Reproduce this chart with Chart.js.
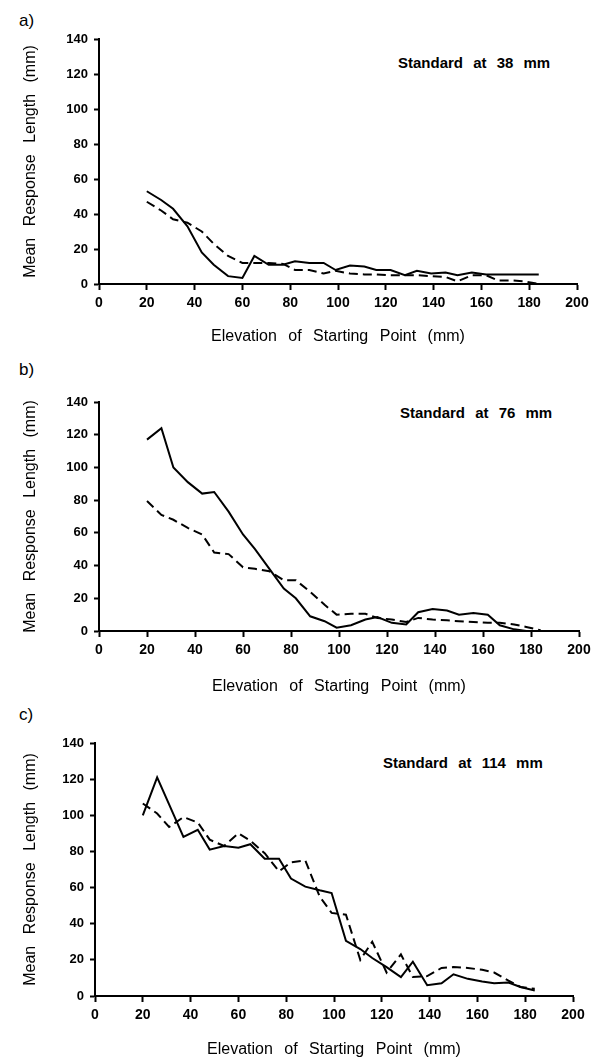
<!DOCTYPE html>
<html>
<head>
<meta charset="utf-8">
<script src="https://cdn.jsdelivr.net/npm/chart.js@4.4.1/dist/chart.umd.min.js"></script>
<style>
  html, body { margin: 0; padding: 0; background: #fff; }
  body { width: 604px; height: 1061px; position: relative; overflow: hidden;
         font-family: "Liberation Sans", Arial, sans-serif; color: #000; }
  .panel { position: absolute; left: 0; width: 604px; }
  .tag { position: absolute; left: 19px; font-size: 17px; line-height: 18px; }
  .note { position: absolute; font-weight: bold; font-size: 15px; line-height: 16px;
          word-spacing: 6px; white-space: nowrap; }
</style>
</head>
<body>
<div class="tag" style="top:12px">a)</div>
<div class="note" style="left:398px;top:55px">Standard at 38 mm</div>
<div class="panel" style="top:0;height:350px"><canvas id="chartA"></canvas></div>

<div class="tag" style="top:361px">b)</div>
<div class="note" style="left:400px;top:405px">Standard at 76 mm</div>
<div class="panel" style="top:350px;height:350px"><canvas id="chartB"></canvas></div>

<div class="tag" style="top:706px">c)</div>
<div class="note" style="left:383px;top:755px">Standard at 114 mm</div>
<div class="panel" style="top:700px;height:361px"><canvas id="chartC"></canvas></div>

<script>
// elevation of starting point (mm), same for every panel
const elevation = [20, 26, 31, 37, 43, 48, 54, 60, 65, 71, 77, 82, 88, 94, 99,
                   105, 111, 116, 122, 128, 133, 139, 145, 150, 156, 162, 167, 173, 178, 184];

// a) standard at 38 mm
const solidA  = [53, 48, 43, 33, 18, 11, 4.5, 3.5, 16, 11, 11, 13, 12, 12, 8,
                 10.5, 10, 8, 8, 5, 7.5, 6, 6.5, 5, 6.5, 5.5, 5.5, 5.5, 5.5, 5.5];
const dashedA = [47, 42, 37, 35, 30, 23, 16, 12, 12, 12, 11.5, 8, 8, 6, 7.5,
                 6, 5.5, 5.5, 5, 5, 5, 4.5, 4, 1.5, 5, 5, 2, 2, 1.5, 0];

// b) standard at 76 mm
const solidB  = [117, 124, 100, 91, 84, 85, 73, 59, 50, 38, 26, 20, 9, 6, 2,
                 3.5, 7, 8.5, 5, 4, 11.5, 13.5, 12.5, 10, 11, 10, 3.5, 1, 0, 0];
const dashedB = [79.5, 71, 68, 63, 59, 48, 47, 39, 38, 36.5, 31, 31, 24, 16, 10,
                 10.5, 10.5, 8, 7, 5.5, 8, 7, 6.5, 6, 5.5, 5, 5, 4, 2.5, 0.5];

// c) standard at 114 mm
const solidC  = [100, 121, 106, 88, 92, 81, 83, 82, 84, 76, 76, 65, 60.5, 58.5, 57,
                 30.5, 26, 21, 16, 10.5, 19, 6, 7, 12, 9.5, 8, 7, 7.5, 5, 3];
const dashedC = [106.5, 101, 93.5, 99, 96, 86.5, 83, 90, 86, 79, 69, 74, 75, 55, 46,
                 45, 20, 30, 13, 23, 10.5, 11, 15.5, 16, 15.5, 14.5, 13, 8.5, 5, 4];

const xTicks = [0, 20, 40, 60, 80, 100, 120, 140, 160, 180, 200];
const yTicks = [0, 20, 40, 60, 80, 100, 120, 140];

const xTitle = 'Elevation of Starting Point (mm)';
const yTitle = 'Mean Response Length (mm)';

const FONT = "'Liberation Sans', Arial, sans-serif";

// wide word gaps like the scanned Helvetica
const spacing = {
    id: 'spacing',
    beforeDraw(chart) { chart.ctx.wordSpacing = '7px'; }
};

function pts(ys) {
    return elevation.map((x, i) => ({ x: x, y: ys[i] }));
}

function makePanel(id, solid, dashed, box) {
    const ctx = document.getElementById(id).getContext('2d');
    return new Chart(ctx, {
        type: 'line',
        data: {
            datasets: [{
                data: pts(solid),
                borderColor: '#000',
                borderWidth: 2,
                pointRadius: 0,
                tension: 0,
                clip: false
            }, {
                data: pts(dashed),
                borderColor: '#000',
                borderWidth: 2,
                borderDash: [9, 5],
                pointRadius: 0,
                tension: 0,
                clip: false
            }]
        },
        options: {
            responsive: true,
            maintainAspectRatio: false,
            animation: false,
            events: [],
            layout: { padding: { top: box.top, right: box.right, left: 0, bottom: 0 } },
            plugins: { legend: { display: false }, tooltip: { enabled: false } },
            scales: {
                x: {
                    type: 'linear',
                    min: 0,
                    max: 200,
                    afterBuildTicks: s => { s.ticks = xTicks.map(v => ({ value: v })); },
                    afterFit: s => { s.height = box.xh; },
                    ticks: { color: '#000', font: { family: FONT, size: 14, weight: 'bold' }, padding: 5, maxRotation: 0 },
                    grid: { drawOnChartArea: false, drawTicks: true, tickLength: 6, tickColor: '#000', tickWidth: 2 },
                    border: { color: '#000', width: 2 },
                    title: { display: true, text: xTitle, color: '#000',
                             font: { family: FONT, size: 16 }, padding: { top: 0, bottom: box.tb } }
                },
                y: {
                    min: 0,
                    max: 140,
                    afterBuildTicks: s => { s.ticks = yTicks.map(v => ({ value: v })); },
                    afterFit: s => { s.width = box.left; },
                    ticks: { color: '#000', font: { family: FONT, size: 13, weight: 'bold' }, padding: 6 },
                    grid: { drawOnChartArea: false, drawTicks: true, tickLength: 5, tickColor: '#000', tickWidth: 2 },
                    border: { color: '#000', width: 2 },
                    title: { display: true, text: yTitle, color: '#000',
                             font: { family: FONT, size: 16 }, padding: { top: 21, bottom: 0 } }
                }
            }
        },
        plugins: [spacing]
    });
}

makePanel('chartA', solidA, dashedA, { top: 39, right: 27, left: 99, xh: 66, tb: 4 });
makePanel('chartB', solidB, dashedB, { top: 52, right: 25, left: 99, xh: 69, tb: 4 });
makePanel('chartC', solidC, dashedC, { top: 43, right: 31, left: 95, xh: 65, tb: 2 });
</script>
</body>
</html>
